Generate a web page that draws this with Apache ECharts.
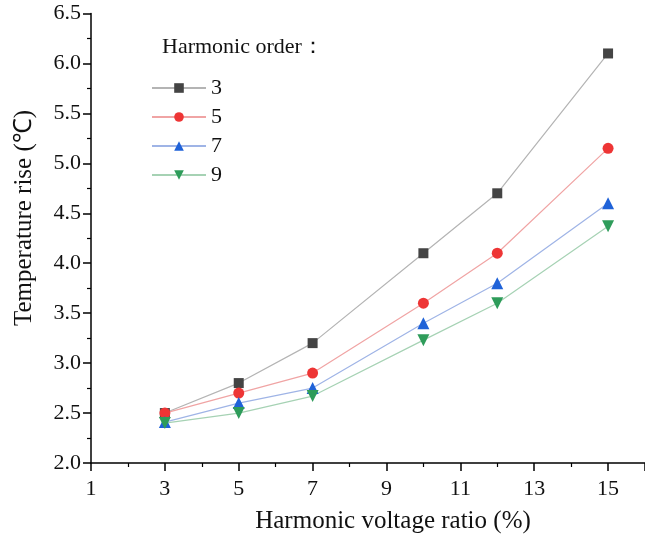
<!DOCTYPE html>
<html>
<head>
<meta charset="utf-8">
<script src="https://cdn.jsdelivr.net/npm/echarts@6/dist/echarts.min.js"></script>
<style>html,body{margin:0;padding:0;background:#fff;}#c{width:645px;height:540px;}</style>
</head>
<body>
<div id="c"></div>
<script>
var xRatios = [3, 5, 7, 10, 12, 15];
var order3 = [2.5, 2.8, 3.2, 4.1, 4.7, 6.1];
var order5 = [2.5, 2.7, 2.9, 3.6, 4.1, 5.15];
var order7 = [2.41, 2.6, 2.75, 3.4, 3.8, 4.6];
var order9 = [2.4, 2.5, 2.67, 3.23, 3.6, 4.37];
var seriesNames = ['3', '5', '7', '9'];
var xTickLabels = [1, 3, 5, 7, 9, 11, 13, 15];
var yTickLabels = ['2.0','2.5','3.0','3.5','4.0','4.5','5.0','5.5','6.0','6.5'];

function pairs(v){ return xRatios.map(function(x,i){ return [x, v[i]]; }); }
var FONT = 'Liberation Serif';

var chart = echarts.init(document.getElementById('c'), null, {renderer:'canvas'});
function mk(name, data, sym, size, rot, mColor, lColor){
  return {
    name: name, type: 'line', data: pairs(data),
    symbol: sym, symbolSize: size, symbolRotate: rot,
    itemStyle: {color: mColor},
    lineStyle: {color: lColor, width: 1.2},
    emphasis: {disabled: true}, animation: false
  };
}
chart.setOption({
  animation: false,
  grid: {left: 91, right: -7, top: 13.5, bottom: 77, containLabel: false},
  xAxis: {
    type: 'value', min: 1, max: 16, interval: 2,
    axisLine: {show: true, onZero: false, lineStyle: {color: '#000', width: 1.5}},
    axisTick: {show: true, inside: false, length: 8, lineStyle: {color: '#000', width: 1.5}},
    minorTick: {show: true, splitNumber: 2, length: 4, lineStyle: {color: '#000', width: 1.2}},
    splitLine: {show: false},
    axisLabel: {showMaxLabel: false, fontFamily: FONT, fontSize: 22, color: '#111', margin: 15,
      formatter: function(v){ return xTickLabels.indexOf(v) >= 0 ? String(v) : ''; }}
  },
  yAxis: {
    type: 'value', min: 2, max: 6.5, interval: 0.5,
    axisLine: {show: true, onZero: false, lineStyle: {color: '#000', width: 1.5}},
    axisTick: {show: true, inside: false, length: 8, lineStyle: {color: '#000', width: 1.5}},
    minorTick: {show: true, splitNumber: 2, length: 4, lineStyle: {color: '#000', width: 1.2}},
    splitLine: {show: false},
    axisLabel: {fontFamily: FONT, fontSize: 22, color: '#111', margin: 10,
      formatter: function(v){ var i = Math.round((v-2)/0.5); return yTickLabels[i]; }}
  },
  legend: {
    orient: 'vertical', left: 146, top: 72,
    itemWidth: 54, itemHeight: 12, itemGap: 7,
    data: seriesNames,
    textStyle: {fontFamily: FONT, fontSize: 22, color: '#111'},
    selectedMode: false
  },
  graphic: [
    {type: 'text', left: 162, top: 36, style: {text: 'Harmonic order：', font: '22px "Liberation Serif"', fill: '#111'}},
    {type: 'text', x: 393, y: 521, style: {text: 'Harmonic voltage ratio (%)', font: '25px "Liberation Serif"', fill: '#111', textAlign: 'center', textVerticalAlign: 'middle'}},
    {type: 'text', x: 24, y: 218, rotation: Math.PI/2, style: {text: 'Temperature rise (℃)', font: '25px "Liberation Serif"', fill: '#111', textAlign: 'center', textVerticalAlign: 'middle'}}
  ],
  series: [
    mk(seriesNames[0], order3, 'rect', 10, 0, '#444444', '#b4b4b4'),
    mk(seriesNames[1], order5, 'circle', 11, 0, '#ee3535', '#f0a4a4'),
    mk(seriesNames[2], order7, 'triangle', 12, 0, '#1f62d8', '#9fb4e6'),
    mk(seriesNames[3], order9, 'triangle', 12, 180, '#2e9c5a', '#a6d2b4')
  ]
});
</script>
</body>
</html>
